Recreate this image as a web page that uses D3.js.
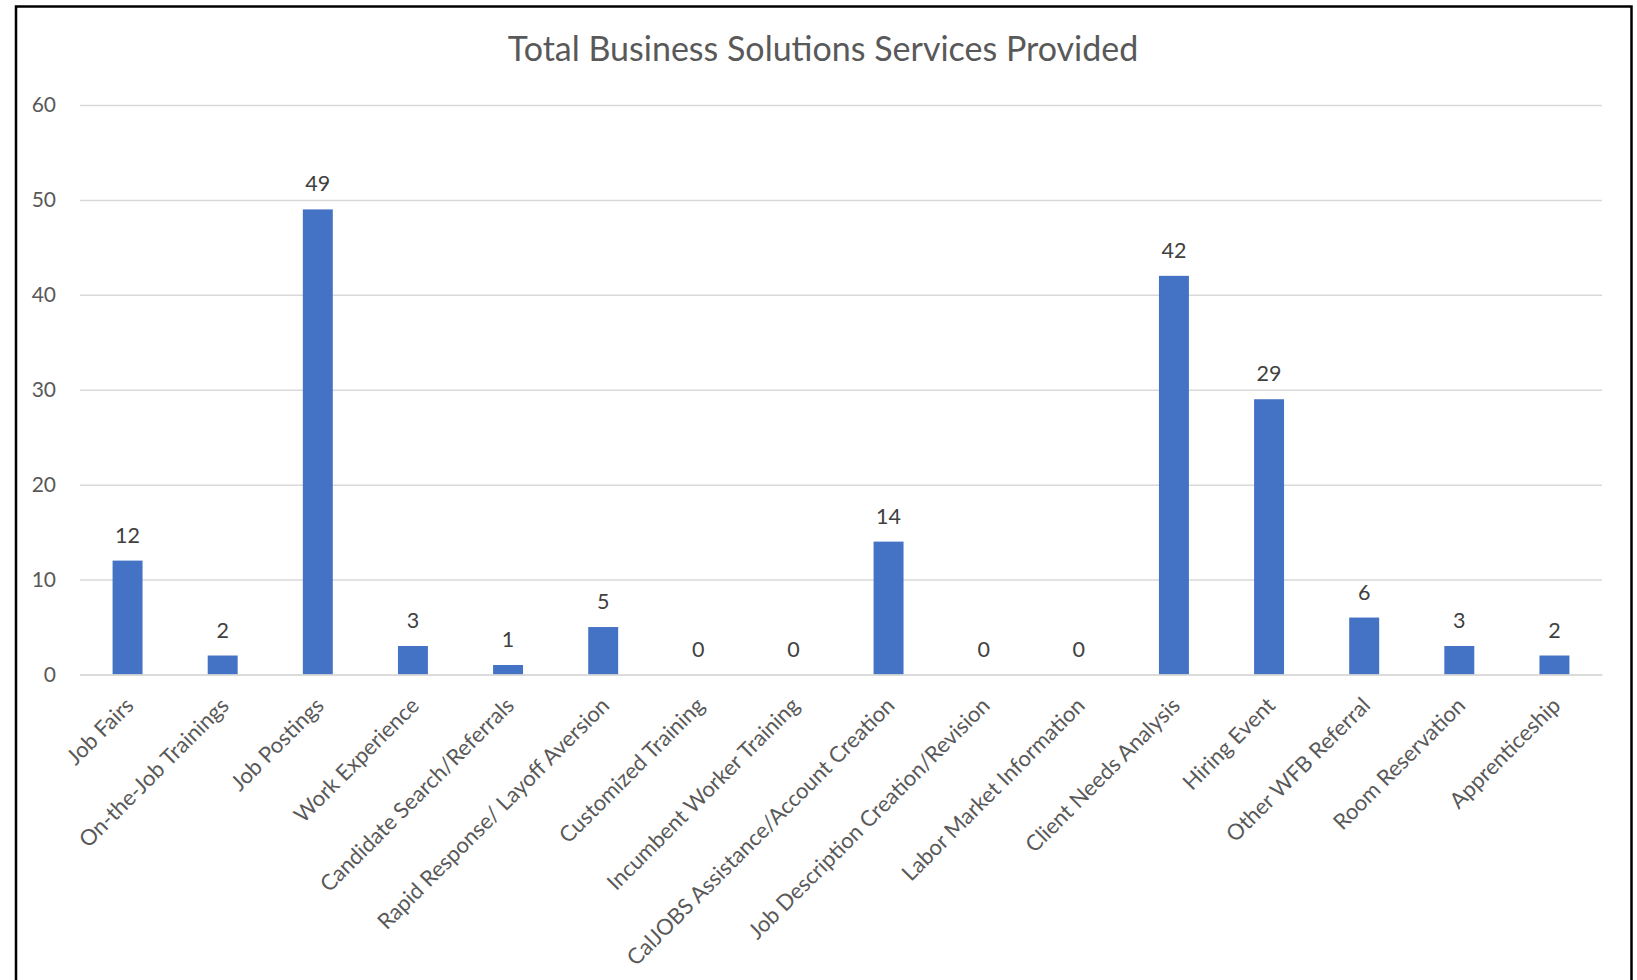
<!DOCTYPE html>
<html>
<head>
<meta charset="utf-8">
<script src="https://cdn.jsdelivr.net/npm/d3@7"></script>
<style>
    body { margin: 0; background: #fff; }
    text { font-family: Lato, 'Open Sans', sans-serif; }
</style>
</head>
<body>
<div id="bar-chart"></div>
<script>
    var categories = [
        'Job Fairs', 'On-the-Job Trainings', 'Job Postings', 'Work Experience',
        'Candidate Search/Referrals', 'Rapid Response/ Layoff Aversion', 'Customized Training',
        'Incumbent Worker Training', 'CalJOBS Assistance/Account Creation',
        'Job Description Creation/Revision', 'Labor Market Information',
        'Client Needs Analysis', 'Hiring Event', 'Other WFB Referral',
        'Room Reservation', 'Apprenticeship'
    ];
    var services = [12, 2, 49, 3, 1, 5, 0, 0, 14, 0, 0, 42, 29, 6, 3, 2];
    var yTicks = [0, 10, 20, 30, 40, 50, 60];
    var title = 'Total Business Solutions Services Provided';

    var width = 1637, height = 980;
    var margin = { top: 105, right: 35, bottom: 305.5, left: 80 };
    var plotW = width - margin.left - margin.right,
        plotH = height - margin.top - margin.bottom;

    var svg = d3.select('#bar-chart')
        .append('svg')
            .attr('width', width)
            .attr('height', height);

    // outer frame, runs off the bottom like the screenshot
    svg.append('rect')
        .attr('x', 16)
        .attr('y', 6.5)
        .attr('width', 1615.5)
        .attr('height', 1000)
        .style('fill', 'none')
        .style('stroke', '#000')
        .style('stroke-width', 2.5);

    svg.append('text')
        .attr('x', 823)
        .attr('y', 61)
        .attr('text-anchor', 'middle')
        .style('font-size', '34px')
        .style('fill', '#595959')
        .text(title);

    var yScale = d3.scaleLinear()
        .domain([0, 60])
        .range([plotH, 0]);

    var xScale = d3.scaleBand()
        .domain(categories)
        .range([0, plotW])
        .paddingInner(0.685)
        .paddingOuter(0.3425);

    var chart = svg.append('g')
        .attr('transform', 'translate(' + margin.left + ', ' + margin.top + ')');

    var yAxis = d3.axisLeft(yScale)
        .tickValues(yTicks)
        .tickSize(-plotW)
        .tickPadding(24);

    var yGuide = chart.append('g').call(yAxis);
    yGuide.select('.domain').remove();
    yGuide.selectAll('line')
        .style('stroke', '#d9d9d9')
        .style('stroke-width', 1.5);
    yGuide.selectAll('text')
        .style('font-family', 'Lato, sans-serif')
        .style('font-size', '21px')
        .style('fill', '#595959');

    chart.selectAll('rect.bar')
        .data(services)
        .enter().append('rect')
            .attr('class', 'bar')
            .attr('x', function(d, i) { return xScale(categories[i]); })
            .attr('width', xScale.bandwidth())
            .attr('y', function(d) { return yScale(d); })
            .attr('height', function(d) { return plotH - yScale(d); })
            .style('fill', '#4472c4');

    chart.selectAll('text.val')
        .data(services)
        .enter().append('text')
            .attr('class', 'val')
            .attr('x', function(d, i) { return xScale(categories[i]) + xScale.bandwidth() / 2; })
            .attr('y', function(d) { return yScale(d) - 18; })
            .attr('text-anchor', 'middle')
            .style('font-size', '21.5px')
            .style('fill', '#404040')
            .text(function(d) { return d; });

    var xAxis = d3.axisBottom(xScale)
        .tickSize(0)
        .tickPadding(0);

    var xGuide = chart.append('g')
        .attr('transform', 'translate(0, ' + plotH + ')')
        .call(xAxis);
    xGuide.select('.domain')
        .style('stroke', '#d9d9d9')
        .style('stroke-width', 1.5);
    xGuide.selectAll('text')
        .attr('x', 0)
        .attr('y', 0)
        .attr('dy', '0.35em')
        .attr('transform', 'translate(2, 27) rotate(-45)')
        .attr('text-anchor', 'end')
        .style('font-family', 'Lato, sans-serif')
        .style('font-size', '22px')
        .style('fill', '#595959');
</script>
</body>
</html>
